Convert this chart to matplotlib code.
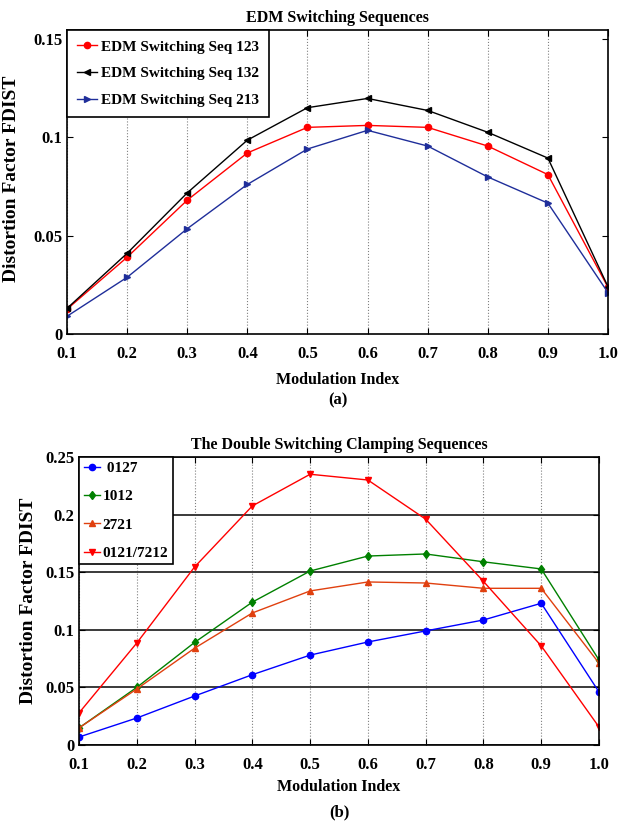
import numpy as np
import matplotlib
matplotlib.use('Agg')
import matplotlib.pyplot as plt

plt.rcParams['font.family'] = ['Liberation Serif', 'DejaVu Serif']
plt.rcParams['font.weight'] = 'bold'

# modulation index
mi = [0.1, 0.2, 0.3, 0.4, 0.5, 0.6, 0.7, 0.8, 0.9, 1.0]
mi_labels = ['0.1', '0.2', '0.3', '0.4', '0.5', '0.6', '0.7', '0.8', '0.9', '1.0']

# (a) EDM switching sequences
seq123 = [0.0126, 0.039, 0.068, 0.092, 0.105, 0.106, 0.105, 0.0955, 0.081, 0.0237]
seq132 = [0.013, 0.041, 0.0717, 0.0985, 0.115, 0.1197, 0.1136, 0.1025, 0.0894, 0.024]
seq213 = [0.009, 0.0288, 0.0535, 0.076, 0.094, 0.1035, 0.0955, 0.0798, 0.0665, 0.021]

# (b) double switching clamping sequences
s0127 = [0.0069, 0.0234, 0.0425, 0.061, 0.078, 0.0894, 0.099, 0.1085, 0.123, 0.046]
s1012 = [0.0148, 0.050, 0.089, 0.124, 0.151, 0.164, 0.1658, 0.159, 0.1528, 0.0738]
s2721 = [0.0148, 0.0486, 0.084, 0.1146, 0.1337, 0.1415, 0.1406, 0.136, 0.136, 0.071]
s0121 = [0.0278, 0.0885, 0.1545, 0.2075, 0.235, 0.230, 0.196, 0.142, 0.086, 0.0156]

fig = plt.figure(figsize=(6.25, 8.21), dpi=100)
ax1 = fig.add_axes([0.1072, 0.5932, 0.8656, 0.3703])
ax2 = fig.add_axes([0.1264, 0.0926, 0.832, 0.3508])

lw = 1.0
ms = 4.5

# ---- panel (a)
ax1.plot(mi, seq123, '-o', color='#ff0000', lw=lw, ms=ms, label='EDM Switching Seq 123')
ax1.plot(mi, seq132, '-<', color='black', lw=lw, ms=ms, label='EDM Switching Seq 132')
ax1.plot(mi, seq213, '->', color='#1f2e9a', lw=lw, ms=ms, label='EDM Switching Seq 213')
ax1.set_xlim(0.1, 1.0)
ax1.set_ylim(0, 0.1545)
ax1.set_yticks([0, 0.05, 0.1, 0.15])
ax1.set_yticklabels(['0', '0.05', '0.1', '0.15'])
ax1.xaxis.grid(True, linestyle=':', color='gray', lw=0.8)
ax1.set_title('EDM Switching Sequences', fontsize=11.5, fontweight='bold', pad=6)
ax1.set_xlabel('Modulation Index', fontsize=11.5, fontweight='bold', labelpad=7)
ax1.set_ylabel('Distortion Factor FDIST', fontsize=14, fontweight='bold')
ax1.yaxis.set_label_coords(-0.087, 0.51)
ax1.text(0.5, -0.22, '(a)', transform=ax1.transAxes, ha='center', va='center', fontsize=12)
leg1 = ax1.legend(loc='upper left', fontsize=11, borderaxespad=0, handlelength=1.3,
                  handletextpad=0.3, fancybox=False, edgecolor='black', framealpha=1,
                  labelspacing=0.85, borderpad=0.65)
leg1.get_frame().set_linewidth(1.2)

# ---- panel (b)
ax2.plot(mi, s0127, '-o', color='#0000ff', lw=lw, ms=ms, label=' 0127')
ax2.plot(mi, s1012, '-d', color='#008000', lw=lw, ms=ms, label='1012')
ax2.plot(mi, s2721, '-^', color='#e0400f', lw=lw, ms=ms, label='2721')
ax2.plot(mi, s0121, '-v', color='#ff0000', lw=lw, ms=ms, label='0121/7212')
ax2.set_xlim(0.1, 1.0)
ax2.set_ylim(0, 0.25)
ax2.set_yticks([0, 0.05, 0.1, 0.15, 0.2, 0.25])
ax2.set_yticklabels(['0', '0.05', '0.1', '0.15', '0.2', '0.25'])
ax2.xaxis.grid(True, linestyle=':', color='gray', lw=0.8)
ax2.yaxis.grid(True, linestyle='-', color='#3a3a3a', lw=1.4)
ax2.set_axisbelow(True)
ax2.set_title('The Double Switching Clamping Sequences', fontsize=11.5, fontweight='bold', pad=6)
ax2.set_xlabel('Modulation Index', fontsize=11.5, fontweight='bold', labelpad=4)
ax2.set_ylabel('Distortion Factor FDIST', fontsize=14, fontweight='bold')
ax2.yaxis.set_label_coords(-0.081, 0.5)
ax2.text(0.5, -0.235, '(b)', transform=ax2.transAxes, ha='center', va='center', fontsize=12)
leg2 = ax2.legend(loc='upper left', fontsize=11, borderaxespad=0, handlelength=1.1,
                  handletextpad=0.15, fancybox=False, edgecolor='black', framealpha=1,
                  labelspacing=0.95, borderpad=0.3)
leg2.get_frame().set_linewidth(1.2)

for ax in (ax1, ax2):
    ax.set_xticks(mi)
    ax.set_xticklabels(mi_labels)
    ax.tick_params(direction='in', top=True, right=True, labelsize=12, length=4)
    ax.tick_params(axis='x', pad=9)
    for lab in ax.get_xticklabels() + ax.get_yticklabels():
        lab.set_fontweight('bold')
    for sp in ax.spines.values():
        sp.set_linewidth(1.2)

fig.savefig('out.png', dpi=100)
